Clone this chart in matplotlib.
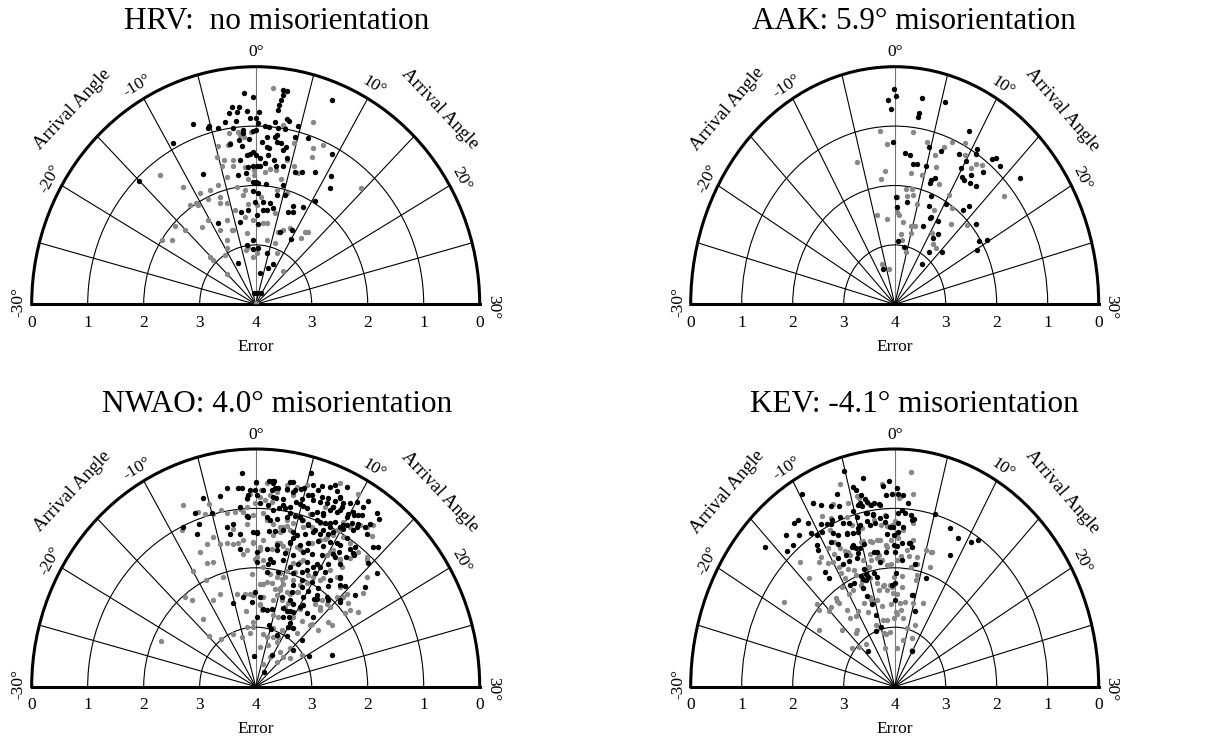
import numpy as np
import matplotlib
matplotlib.use("Agg")
import matplotlib.pyplot as plt

plt.rcParams['font.family'] = ['Liberation Serif', 'DejaVu Serif']

# arrival angle (deg) and error for each station, black and gray sets
hrv_black_ang = [2.55, 2.93, 2.6, 2.5, 2.4, 2.29, -1.12, -0.23, 7.18, -1.7,
                 -2.38, -1.92, -2.81, -0.95, 0.35, -0.62, 0.04, 0.3, 2.14, 3.36,
                 3.67, 4.75, -6.69, -5.17, -5.31, -4.21, -3.37, -2.2, -2.56, 0.04,
                 -0.27, 1.06, 1.56, 2.6, 3.37, -1.51, -1.46, 2.5, 2.34, 1.33,
                 -0.82, -2.01, 0.75, 2.6, 1.41, 3.16, 3.8, 4.66, 6.18, -9.49,
                 -3.21, -1.8, 1.77, 3.5, -0.31, -0.76, -1.22, 0.05, 1.72, 9.4,
                 0.6, 2.61, 4.23, -2.19, 1.33, -1.08, -0.34, 0.15, 0.64, 2.96,
                 3.99, 5.85, 6.76, 8.5, 10.62, 11.4, -7.66, -2.7, -1.49, -0.39,
                 0.05, 0.45, 1.67, 4.61, -15.04, 10.45, -0.42, 0.49, 3.84, 5.3,
                 -0.13, 1.51, 2.86, 3.68, 7.42, 9.18, -3.18, -1.56, 1.49, 2.36,
                 0.23, 7.77, 6.84, -8.69, -3.79, 0.67, 6.52, 9.99, -2.82, -0.84,
                 0.95, 4.3, 7.92, 6.82, 2.81, -8.05, -3.04, 1.83, 9.07, 9.06, -0.73]
hrv_black_err = [0.36, 0.36, 0.44, 0.53, 0.62, 0.71, 0.44, 0.51, 0.30, 0.66,
                 0.65, 0.74, 0.75, 0.75, 0.76, 0.87, 0.87, 0.95, 0.91, 0.84,
                 0.85, 0.90, 0.76, 0.89, 0.92, 0.95, 0.88, 0.90, 1.01, 1.07,
                 1.09, 1.00, 1.00, 1.01, 1.01, 1.06, 1.11, 1.12, 1.17, 1.17,
                 1.22, 1.22, 1.26, 1.24, 1.34, 1.25, 1.29, 1.09, 1.04, 0.92,
                 1.26, 1.33, 1.36, 1.36, 1.43, 1.46, 1.48, 1.49, 1.48, 1.13,
                 1.54, 1.55, 1.48, 1.55, 1.61, 1.68, 1.67, 1.67, 1.67, 1.64,
                 1.62, 1.67, 1.63, 1.54, 1.45, 1.64, 1.61, 1.80, 1.79, 1.94,
                 1.94, 1.96, 1.96, 1.93, 1.06, 1.96, 2.09, 2.13, 2.12, 2.09,
                 2.27, 2.27, 2.28, 2.35, 2.22, 2.16, 2.42, 2.40, 2.40, 2.40,
                 2.50, 2.30, 2.34, 2.48, 2.58, 2.64, 2.70, 2.74, 2.99, 3.06,
                 3.05, 3.12, 3.25, 3.35, 3.47, 3.24, 3.81, 3.81, 3.79, 2.59, 2.92]
hrv_gray_ang = [1.65, 6.17, 3.1, 3.34, -2.03, -1.87, -1.37, -0.59, -3.09, 4.77,
                7.14, 8.09, -4.7, -3.53, -3.2, 7.31, 4.28, -12.71, -5.22, -4.37,
                -3.1, -4.77, -3.23, -1.57, 2.13, 3.04, 5.49, 6.22, -0.2, -0.21,
                1.42, 4.03, -4.52, -1.18, -11.12, -7.65, -9.34, -6.12, -8.45, -6.46,
                -10.69, -10.49, -3.24, 3.68, 5.5, 14.64, -2.28, -1.89, -5.65, -6.85,
                -1.47, 1.0, -4.36, -2.46, 0.2, 4.23, -11.68, -10.26, -12.03, -6.68,
                -6.3, -0.56, 1.91, 2.73, -15.93, -15.08, -19.0, -17.95, -8.52, -2.55,
                -9.6, -15.12, -11.13, -2.56, -3.56, 3.43, 6.1, 11.94, 11.92, 12.52,
                7.18, -8.99, 6.13, 13.55, -14.91, 0.0, 0.4, -0.99, -15.15, 8.47,
                7.87, -5.89]
hrv_gray_err = [0.35, 0.76, 0.94, 0.99, 1.08, 1.14, 1.17, 1.09, 1.08, 1.20,
                1.18, 1.06, 1.26, 1.28, 1.25, 1.32, 1.51, 1.23, 1.42, 1.51,
                1.54, 1.59, 1.63, 1.68, 1.70, 1.71, 1.57, 1.66, 1.74, 1.82,
                1.76, 1.84, 1.79, 1.89, 1.63, 1.91, 1.88, 1.88, 2.03, 2.08,
                1.99, 2.04, 1.99, 2.04, 2.05, 1.29, 2.15, 2.07, 2.22, 2.18,
                2.30, 2.19, 2.37, 2.51, 2.33, 2.43, 1.96, 2.35, 2.38, 2.49,
                2.68, 2.58, 2.63, 2.62, 2.05, 2.22, 2.01, 2.16, 2.80, 2.79,
                2.92, 2.94, 3.01, 3.02, 3.07, 2.90, 2.71, 2.62, 2.49, 2.46,
                2.65, 2.60, 2.91, 3.26, 3.28, 3.97, 3.14, 3.20, 2.86, 2.57,
                3.06, 2.69]

aak_black_ang = [-0.07, -0.72, 0.1, 2.87, -0.45, 5.33, 2.81, 2.75, 8.82, -0.18,
                 4.73, 6.47, 1.52, 2.27, 8.82, 10.57, 10.8, 12.65, 12.99, 13.8,
                 2.93, 3.54, 4.85, 9.84, 10.09, 12.65, 10.54, 11.51, 10.97, 11.96,
                 12.88, 16.42, 6.2, 6.24, 6.75, 7.13, 0.2, 0.6, 2.59, 7.33,
                 10.32, 13.36, 13.76, 8.55, 10.38, 7.65, 16.54, 11.78, 11.33, 19.04,
                 19.71, 20.16, 1.16, 3.55, 12.49, 15.6, 12.93, -6.81, 8.7]
aak_black_err = [0.38, 0.55, 0.50, 0.48, 0.71, 0.45, 0.75, 0.82, 0.74, 1.27,
                 1.26, 1.26, 1.45, 1.47, 1.18, 0.93, 1.01, 0.90, 0.84, 0.89,
                 1.61, 1.60, 1.59, 1.36, 1.21, 1.18, 1.48, 1.36, 1.51, 1.47,
                 1.46, 0.75, 1.79, 1.85, 1.74, 2.05, 2.19, 2.36, 2.27, 2.21,
                 2.04, 1.93, 1.80, 2.38, 2.36, 2.56, 1.92, 2.54, 2.66, 2.04,
                 1.89, 2.14, 2.93, 3.01, 2.90, 2.72, 3.14, 3.37, 2.36]
aak_gray_ang = [-1.87, 2.35, -1.1, -5.75, -1.66, -2.36, 4.29, 5.78, 7.46, 6.66,
                8.97, 9.56, 11.41, 12.01, 10.95, 16.53, 2.69, 4.54, 7.84, 6.36,
                2.11, 3.36, 2.44, 3.67, 8.61, 4.76, 0.4, 0.64, 1.08, -4.39,
                -2.07, 2.22, 4.61, 5.48, 5.01, 11.63, 13.03, 15.59, 1.88, 2.63,
                10.39, 12.27, 13.45, 4.54, -6.52, -3.55, 9.95]
aak_gray_err = [1.06, 1.07, 1.29, 1.50, 1.74, 1.88, 1.19, 1.36, 1.04, 1.18,
                0.96, 1.14, 1.15, 1.09, 1.26, 1.18, 1.77, 1.76, 1.80, 1.55,
                2.05, 2.03, 2.16, 2.13, 2.24, 2.26, 2.20, 2.44, 2.49, 2.46,
                2.55, 2.60, 2.64, 2.62, 2.75, 2.03, 2.26, 2.05, 2.81, 2.91,
                2.60, 2.74, 2.76, 3.09, 3.28, 3.40, 1.87]

nwao_black_ang = [-1.26, 5.1, 0.03, 1.28, 1.57, 1.83, -2.94, -1.77, -0.58, -0.07,
                  0.79, 1.65, 2.31, 3.14, 3.8, 4.84, 5.63, 6.42, -5.46, -3.75,
                  -0.97, 0.18, 2.18, 2.96, 4.34, 4.85, 5.42, 6.05, 6.76, 7.4,
                  8.14, 8.48, 8.97, -6.76, -5.0, -1.76, -1.07, 1.41, 2.02, 2.67,
                  3.29, 3.82, 4.8, 5.61, 6.31, 6.77, 7.57, 8.03, 8.21, 8.79,
                  8.97, 9.91, 10.44, 11.09, 12.71, -8.62, -6.75, -3.63, -2.77, -0.87,
                  2.52, 3.65, 4.58, 5.45, 6.3, 7.5, 8.06, 8.6, 9.02, 9.75,
                  10.3, 10.66, 11.24, 12.0, -7.44, -3.38, -2.07, 0.13, 1.78, 2.51,
                  3.54, 4.83, 5.34, 6.29, 7.19, 8.22, 8.91, 9.35, 10.15, 11.17,
                  4.73, 6.11, 7.11, 8.19, 9.53, 10.74, 11.98, 14.27, -2.29, 0.15,
                  1.71, 2.99, 4.37, 5.64, 6.86, 8.02, 9.35, 10.59, 11.13, 12.15,
                  12.82, 10.99, 0.16, 2.08, 2.85, 4.36, 5.64, 6.69, 7.82, 9.03,
                  9.9, 10.69, 12.01, 16.19, 1.94, 3.95, 6.5, 7.69, 8.32, 9.71,
                  10.9, 13.07, 14.37, 8.22, 9.87, 7.18, 8.7, 10.04, 15.35, 16.3,
                  -5.26, -2.77, -0.14, 5.71, 7.63, 8.58, 9.82, 12.12, 13.93, 2.0,
                  3.08, 4.13, 9.06, 9.4, 10.64, 4.45, 5.24, 7.85, -0.87, 10.87,
                  20.46, 7.63, 0.29,
                  1.74, 3.36, 3.67, 4.54, 3.99, 6.22, 7.17, 7.55, 7.93, 8.59,
                  5.74, 6.74, 7.45, 8.4, 9.54, 10.03, 10.8, 10.95, 10.21, 10.79,
                  9.87, 8.95, 8.2, 7.49, 5.23, 5.15, 7.07, 7.3, 8.0, 6.35,
                  3.95, 3.05, 1.31, 1.73, -1.07, -0.31, 0.13, 8.74, 9.96, 11.27,
                  12.2, 12.51, 11.02, 10.32, 5.02, 4.7, 9.04, 7.2, 9.23, 3.09,
                  2.25, 12.33, 14.7, 12.62, 13.91, 12.17, 1.97, -1.43, -0.78, 0.48,
                  1.87,
                  7.3, 11.74, 11.77, 13.31, 11.35, 12.48, 12.16, 13.18, 16.42, 15.49,
                  6.83, 7.8, 8.53, 10.14, 12.14, 13.72, 9.96, 10.0, 11.47, 11.12,
                  15.44, 15.82, 9.4, 22.86, -0.96, 0.97, 13.78]
nwao_black_err = [0.40, 0.28, 0.55, 0.53, 0.53, 0.52, 0.62, 0.65, 0.69, 0.69,
                  0.69, 0.68, 0.64, 0.62, 0.65, 0.55, 0.46, 0.43, 0.69, 0.73,
                  0.82, 0.78, 0.81, 0.80, 0.81, 0.73, 0.64, 0.70, 0.68, 0.57,
                  0.57, 0.49, 0.54, 0.88, 0.97, 0.96, 1.12, 0.94, 1.01, 0.96,
                  0.95, 0.91, 0.82, 0.86, 0.92, 0.86, 0.87, 0.75, 0.67, 0.72,
                  0.61, 0.66, 0.61, 0.55, 0.42, 1.01, 1.09, 1.26, 1.24, 1.14,
                  1.15, 1.09, 1.04, 1.08, 1.10, 1.00, 0.98, 0.95, 0.89, 0.92,
                  0.83, 0.76, 0.70, 0.68, 1.23, 1.39, 1.41, 1.42, 1.37, 1.36,
                  1.32, 1.31, 1.35, 1.28, 1.20, 1.10, 1.12, 1.05, 0.93, 0.84,
                  1.50, 1.48, 1.41, 1.31, 1.23, 1.18, 1.13, 0.79, 1.66, 1.73,
                  1.67, 1.59, 1.69, 1.69, 1.58, 1.55, 1.49, 1.37, 1.29, 1.29,
                  1.18, 1.40, 1.90, 1.92, 1.88, 1.82, 1.90, 1.81, 1.71, 1.74,
                  1.68, 1.56, 1.44, 1.10, 2.06, 2.03, 1.98, 1.90, 1.84, 1.82,
                  1.71, 1.62, 1.67, 2.03, 1.98, 2.17, 2.13, 2.13, 1.91, 1.65,
                  2.53, 2.48, 2.41, 2.42, 2.42, 2.45, 2.27, 2.16, 2.05, 2.69,
                  2.70, 2.67, 2.68, 2.58, 2.39, 2.94, 2.99, 3.06, 3.48, 3.71,
                  2.91, 2.73, 2.83,
                  0.55, 0.50, 0.49, 0.57, 0.62, 0.51, 0.38, 0.32, 0.41, 0.26,
                  0.62, 0.59, 0.66, 0.47, 0.48, 0.40, 0.41, 0.29, 0.58, 0.58,
                  0.71, 0.67, 0.67, 0.84, 0.85, 1.03, 0.99, 1.16, 1.18, 1.12,
                  1.02, 0.90, 1.13, 1.18, 1.13, 1.39, 1.39, 1.00, 0.86, 0.76,
                  0.58, 0.75, 1.02, 1.19, 1.41, 1.49, 1.35, 1.53, 1.66, 1.67,
                  1.83, 1.05, 1.11, 1.16, 0.84, 0.37, 0.64, 0.65, 0.77, 0.91,
                  0.79,
                  2.28, 2.11, 2.20, 2.03, 2.00, 1.87, 1.77, 1.64, 1.42, 1.92,
                  2.59, 2.61, 2.58, 2.44, 2.47, 2.44, 2.77, 2.84, 2.81, 2.99,
                  2.86, 3.09, 3.40, 2.54, 2.57, 2.49, 1.72]
nwao_gray_ang = [-7.7, -5.01, -3.92, -2.38, -1.78, -0.97, 0.03, -0.59, 0.52, 3.09,
                 4.09, 1.75, 3.93, -8.88, -6.4, -5.75, -4.85, -3.36, -2.84, -1.12,
                 -0.28, 0.9, 1.34, 2.18, 3.06, 3.94, 5.86, 6.8, 9.59, 9.82,
                 10.69, 11.48, 12.13, -7.89, -6.66, -7.6, -6.6, -4.94, -4.02, -3.13,
                 -2.43, -5.57, -1.98, -0.33, 0.63, 2.34, 3.41, 4.52, 6.27, 7.52,
                 8.33, 8.81, 10.62, 10.12, 11.65, 14.33, -10.03, -8.84, -5.79, -0.1,
                 1.23, 1.3, 2.56, 3.83, 4.78, 5.3, 5.26, 6.0, 6.89, 11.38,
                 12.44, 13.98, -0.72, 0.85, 2.12, 3.12, 3.94, 5.0, 6.39, 7.14,
                 8.53, 9.72, 10.9, -13.31, -12.74, -9.17, -7.39, -4.08, -2.31, 1.73,
                 4.09, 7.12, 10.38, 12.4, 13.03, 14.09, 14.6, 15.37, 17.57, -2.56,
                 1.08, 4.92, 6.36, 9.96, 12.14, 14.46, 13.95, -13.1, -14.75, -12.53,
                 -8.06, -3.04, -0.79, 2.92, 6.92, 8.87, 14.98, 9.11, 2.22, 6.56,
                 -5.32, -21.78, 10.49,
                 1.1, 2.17, 1.51, 1.01, 0.46, -0.08, -1.01, -1.43, 3.72, 4.58,
                 5.62, 3.46, 3.15, 4.36, 2.34, 1.05, -0.34, -1.71, -1.33, 0.64,
                 0.15, 2.95, 3.94, 5.76, 7.25, 7.3, 9.93, 10.36, 11.74, 12.65,
                 12.96, 14.06, 11.64, 8.89, 9.5, 9.91, 7.56, 13.12, 12.55, 9.8,
                 7.92, 5.01, 3.16, 6.13, 7.41,
                 4.27, 5.26, 6.84, 8.27, 9.21, 8.2, 4.9, 4.55, 5.89, 7.52,
                 1.49, -1.24, -0.52, 1.04, 1.58, -0.74, -2.16, 4.37, 5.95, 5.93,
                 8.64, 8.55, 13.08, 14.51, 12.15, 13.91, 17.37, 19.01, 14.36, 16.51,
                 16.62, 17.53, 13.49, 14.86, 15.31, 16.57, 17.42, 18.49, 16.92, 15.66,
                 12.67, 11.17, 6.64, 8.86]
nwao_gray_err = [0.68, 0.81, 0.97, 1.04, 0.99, 0.83, 0.57, 0.75, 0.69, 0.56,
                 0.56, 0.88, 0.71, 1.05, 0.89, 0.95, 0.99, 1.04, 1.31, 1.25,
                 1.11, 1.08, 1.19, 1.24, 1.28, 1.24, 1.18, 1.13, 1.00, 0.82,
                 0.83, 0.71, 0.66, 1.52, 1.44, 1.74, 1.77, 1.51, 1.52, 1.56,
                 1.56, 1.37, 1.75, 1.59, 1.65, 1.66, 1.55, 1.64, 1.55, 1.39,
                 1.28, 1.22, 1.03, 1.37, 1.37, 1.09, 1.76, 2.00, 2.07, 1.85,
                 1.87, 1.98, 2.08, 2.12, 2.13, 2.20, 1.97, 1.82, 1.76, 1.63,
                 1.47, 1.75, 2.10, 2.27, 2.23, 2.24, 2.32, 2.32, 2.31, 2.32,
                 2.24, 1.89, 1.87, 2.03, 2.15, 2.36, 2.31, 2.40, 2.43, 2.49,
                 2.51, 2.56, 2.47, 2.25, 2.13, 2.11, 1.91, 1.74, 1.88, 2.71,
                 2.63, 2.76, 2.76, 2.65, 2.62, 2.54, 2.28, 2.52, 2.81, 2.99,
                 3.03, 2.99, 3.00, 3.10, 3.11, 3.16, 3.30, 3.44, 3.33, 3.59,
                 3.13, 2.14, 2.83,
                 0.57, 0.70, 0.76, 0.86, 0.80, 0.91, 0.97, 1.05, 1.14, 1.17,
                 1.07, 1.26, 1.36, 1.29, 1.43, 1.53, 1.56, 1.52, 1.69, 1.70,
                 1.81, 1.56, 1.59, 1.53, 1.71, 1.40, 1.45, 1.31, 1.39, 1.26,
                 1.08, 1.05, 1.06, 1.18, 1.10, 0.96, 1.02, 0.73, 0.56, 0.27,
                 0.26, 0.49, 0.64, 0.93, 0.73,
                 2.04, 2.08, 2.08, 2.12, 2.04, 2.24, 2.29, 2.41, 2.47, 2.48,
                 2.26, 2.43, 2.46, 2.60, 2.71, 2.91, 3.10, 3.14, 3.26, 2.97,
                 2.94, 3.07, 2.84, 3.11, 3.27, 3.44, 3.22, 3.02, 2.58, 2.53,
                 2.30, 2.29, 2.23, 2.11, 1.82, 1.83, 1.98, 1.78, 1.52, 1.29,
                 1.65, 1.81, 1.94, 1.90]

kev_black_ang = [-5.14, -3.33, -0.61, -1.25, -4.55, -4.34, -3.88, -3.49, -3.24, -2.48,
                 -1.9, -1.04, 0.42, -9.77, -9.15, -8.44, -7.45, -6.55, -4.47, -3.65,
                 -2.72, -1.17, 0.96, 2.06, 2.55, 5.07, 7.44, 8.78, 10.48, 11.14,
                 8.76, -11.92, -11.38, -10.51, -9.28, -8.2, -6.83, -6.0, -4.79, -3.61,
                 -2.7, -1.35, -0.19, 0.5, 1.2, -13.28, -12.11, -10.82, -9.59, -7.9,
                 -6.7, -5.9, -5.1, -0.1, 1.18, 2.21, 2.78, -15.69, -14.25, -10.86,
                 -9.04, -8.22, -6.59, -6.04, -4.68, -3.36, -1.37, -0.11, -9.14, -7.79,
                 -7.66, -6.0, -6.22, 1.34, -11.75, -11.71, -8.74, -5.61, -6.58, -5.55,
                 -3.96, 0.2, 6.13, -9.01, -8.19, -6.9, -5.84, 0.0, 4.44, -6.48,
                 -5.81, -5.7, -5.11, -7.29, -13.89, -3.59,
                 -6.44, -4.14, -4.01, -2.92, -1.8, -5.11, -3.56, -2.75, -1.94, -8.63,
                 -7.9, -6.69, -8.33, -4.68, -3.37, -10.31, -13.32, -11.07, -6.69, -5.1,
                 -6.26, -5.43, -2.95, 0.05, -0.35, 0.22, 1.0, 1.65, 0.47, 1.32,
                 -0.65, -1.16, 2.26, 0.52, 0.31, 2.36, -2.6, 3.62,
                 -6.21, -5.23, -0.66, 0.06, 4.06, 5.76, 9.83]
kev_black_err = [0.23, 0.43, 0.54, 0.61, 0.55, 0.61, 0.71, 0.78, 0.84, 0.88,
                 0.91, 0.77, 0.76, 0.29, 0.51, 0.62, 0.71, 0.77, 0.86, 1.02,
                 1.06, 1.12, 1.02, 1.09, 1.16, 0.99, 1.12, 1.20, 1.15, 1.04,
                 1.53, 0.61, 0.61, 0.76, 0.90, 0.99, 0.95, 1.11, 1.06, 1.16,
                 1.22, 1.23, 1.32, 1.25, 1.30, 0.68, 0.84, 0.94, 1.04, 1.21,
                 1.27, 1.28, 1.24, 1.45, 1.57, 1.57, 1.62, 0.54, 0.89, 1.17,
                 1.26, 1.35, 1.50, 1.55, 1.53, 1.69, 1.72, 1.62, 1.57, 1.59,
                 1.71, 1.64, 1.72, 1.86, 1.63, 1.77, 1.69, 1.93, 2.03, 2.02,
                 2.04, 2.09, 2.08, 2.08, 2.09, 2.23, 2.12, 2.54, 2.41, 2.39,
                 2.54, 2.74, 2.96, 3.00, 3.20, 2.12,
                 0.56, 0.84, 0.89, 0.91, 0.93, 0.93, 1.03, 1.08, 1.15, 0.95,
                 0.93, 1.06, 1.15, 1.20, 1.24, 1.02, 0.90, 1.26, 1.25, 1.30,
                 1.48, 1.57, 1.70, 1.73, 0.75, 0.66, 0.77, 0.90, 1.08, 1.07,
                 1.31, 1.42, 1.18, 1.39, 1.64, 1.57, 1.88, 1.89,
                 2.08, 2.09, 2.29, 2.26, 2.42, 2.66, 3.32]
kev_gray_ang = [1.72, -5.8, 0.51, -4.34, -4.13, -9.18, -7.15, -8.83, -7.94, -6.05,
                -5.74, -4.45, -2.73, -1.83, -1.02, -0.41, 0.55, -0.6, -1.41, -2.6,
                -3.72, -5.08, -8.64, -9.7, -11.15, -13.78, -14.19, -11.7, -10.79, -9.37,
                -8.22, -7.38, -7.17, -9.53, -9.65, -8.37, -7.35, -7.36, -7.07, -4.65,
                -4.02, -2.62, -2.15, -0.72, 1.02, 2.43, 3.81, 6.29, 5.98, 4.3,
                4.29, 1.71, -0.52, -2.32, -3.67, -4.94, -8.99, -9.93, -10.59, -12.6,
                -12.69, -14.3, -16.3, -15.03, -12.6, -11.88, -12.4, -10.88, -7.71, -5.94,
                -3.55, -1.68, -0.13, 0.64, -3.38, -1.06, 0.3, 1.73, -0.22, -2.43,
                7.26, -18.96, -19.06, -15.67, -13.44, -15.33, -12.76, -4.31, -5.44, -3.69,
                -17.35, -6.56, 1.53, 2.95, 4.04, 4.92, 5.88,
                -5.47, -3.06, -8.56, -4.72, -3.5, -2.22, -7.69, -9.92, -5.37, -3.1,
                -1.46, 0.35, -1.27, 1.94, 2.81, -1.26, 0.04, 1.22, 2.52, -1.43,
                0.62, 2.14, 0.29, -4.06,
                -9.37, -6.65, -5.91, -4.54, -5.84, -2.52, -1.03, -0.33, 1.41, 2.68,
                4.87, 0.6, 2.79, 4.49, 7.0, -3.75, -5.31, -1.9, -15.83, -9.72,
                -7.43, -12.52, 1.14, 4.06, 9.46, 7.43]
kev_gray_err = [0.37, 0.43, 0.83, 0.71, 0.75, 0.52, 0.70, 0.80, 0.90, 0.99,
                1.16, 1.26, 1.17, 1.27, 1.30, 1.28, 1.50, 1.53, 1.61, 1.51,
                1.51, 1.47, 1.29, 1.33, 1.38, 1.20, 1.52, 1.43, 1.54, 1.46,
                1.44, 1.55, 1.62, 1.70, 1.82, 1.82, 1.88, 1.97, 2.16, 1.92,
                1.82, 1.76, 1.85, 1.94, 1.80, 1.79, 1.77, 1.88, 1.61, 2.07,
                2.16, 2.32, 2.32, 2.28, 2.23, 2.11, 2.18, 2.20, 2.02, 2.12,
                2.18, 2.16, 2.04, 2.19, 2.22, 2.41, 2.56, 2.59, 2.47, 2.47,
                2.34, 2.37, 2.15, 2.44, 2.63, 2.60, 2.74, 2.70, 2.85, 2.87,
                2.49, 1.40, 2.24, 2.60, 2.82, 3.03, 3.09, 3.07, 3.33, 3.09,
                2.95, 2.90, 2.13, 1.97, 1.89, 1.62, 1.63,
                0.78, 0.89, 1.07, 1.48, 1.52, 1.51, 1.51, 1.58, 1.78, 1.81,
                1.95, 1.87, 1.64, 1.69, 1.50, 1.11, 1.22, 1.36, 1.23, 0.58,
                0.80, 0.73, 1.45, 1.71,
                1.93, 2.10, 2.41, 2.50, 2.50, 2.30, 2.29, 2.43, 2.59, 2.56,
                2.55, 2.77, 2.84, 2.99, 2.89, 2.86, 2.95, 3.07, 1.93, 2.54,
                2.64, 2.80, 3.35, 3.20, 3.30, 3.12]

titles = ["HRV:  no misorientation", "AAK: 5.9\u00b0 misorientation",
          "NWAO: 4.0\u00b0 misorientation", "KEV: -4.1\u00b0 misorientation"]
angle_ticks = [-30, -20, -10, 0, 10, 20, 30]
error_ticks = ["0", "1", "2", "3", "4", "3", "2", "1", "0"]

W, H = 1214, 744
fig = plt.figure(figsize=(W / 100, H / 100), dpi=100)

# panel geometry in pixels: centre x, baseline y, half width, height
geom = [(255.7, 304.3, 224, 237.6), (894.7, 304.3, 204, 237.6),
        (255.7, 686.6, 224, 237.6), (894.7, 686.6, 204, 237.6)]
title_pos = [(277, 29.3), (914, 29.3), (277.5, 411.7), (914, 411.7)]
data = [(hrv_black_ang, hrv_black_err, hrv_gray_ang, hrv_gray_err),
        (aak_black_ang, aak_black_err, aak_gray_ang, aak_gray_err),
        (nwao_black_ang, nwao_black_err, nwao_gray_ang, nwao_gray_err),
        (kev_black_ang, kev_black_err, kev_gray_ang, kev_gray_err)]


def put(x_px, y_px, s, **kw):
    fig.text(x_px / W, 1 - y_px / H, s, **kw)


fs = 12.5
for i in range(4):
    cx, cy, rx, ry = geom[i]
    # polar wedge gets padded to a square box, the half disc sits in its middle
    ax = fig.add_axes([(cx - rx) / W, 1 - (cy + 0.5 * ry) / H, 2 * rx / W, 2 * ry / H],
                      projection='polar')
    ax.set_theta_zero_location('N')
    ax.set_theta_direction(-1)
    ax.set_thetamin(-90)
    ax.set_thetamax(90)
    ax.set_ylim(4, 0)
    ax.set_aspect('auto')

    spokes = np.arange(-90, 91, 15)
    ax.set_thetagrids(spokes, labels=[''] * len(spokes))
    ax.set_rgrids([1, 2, 3], labels=[''] * 3)
    ax.grid(True, color='black', lw=0.8)
    ax.xaxis.get_gridlines()[6].set_color('#777777')
    for s in ['polar', 'start', 'end']:
        ax.spines[s].set_linewidth(2.2)
        ax.spines[s].set_color('black')

    ba, be, ga, ge = data[i]
    ax.scatter(np.deg2rad(3 * np.array(ga)), ge, s=15, color='#888888', lw=0, zorder=3)
    ax.scatter(np.deg2rad(3 * np.array(ba)), be, s=15, color='black', lw=0, zorder=4)

    # angle labels around the rim
    for a in angle_ticks:
        phi = np.deg2rad(3 * a)
        rot = np.degrees(np.arctan2(-ry * np.sin(phi), rx * np.cos(phi)))
        dy = 2.5 if a == -30 else (-2.5 if a == 30 else 0)
        put(cx + 1.06 * rx * np.sin(phi), cy - 1.06 * ry * np.cos(phi) - dy,
            "%d\u00b0" % a, ha='center', va='center', rotation=rot,
            rotation_mode='anchor', fontsize=fs)
    for side in [-1, 1]:
        phi = np.deg2rad(45 * side)
        rot = np.degrees(np.arctan2(-ry * np.sin(phi), rx * np.cos(phi)))
        put(cx + 1.16 * rx * np.sin(phi), cy - 1.16 * ry * np.cos(phi), "Arrival Angle",
            ha='center', va='center', rotation=rot, rotation_mode='anchor', fontsize=13.5)

    # error labels under the base line
    for k, lab in enumerate(error_ticks):
        put(cx - rx + k * rx / 4, cy + 18.4, lab, ha='center', va='center', fontsize=fs)
    put(cx, cy + 42.4, "Error", ha='center', va='center', fontsize=fs)

    tx, ty = title_pos[i]
    put(tx, ty, titles[i], ha='center', va='baseline', fontsize=22.5)

fig.savefig("out.png", dpi=100)
